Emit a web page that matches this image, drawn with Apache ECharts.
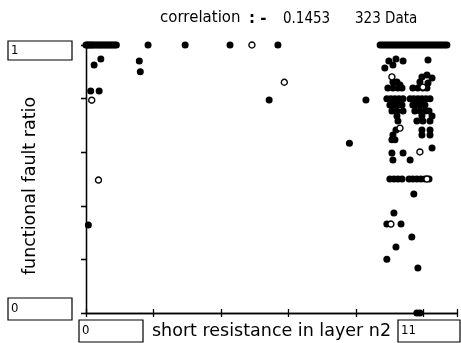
<!DOCTYPE html>
<html><head><meta charset="utf-8">
<script src="https://cdn.jsdelivr.net/npm/echarts@6/dist/echarts.min.js"></script>
<style>html,body{margin:0;padding:0;background:#fff}#c{width:461px;height:343px}</style>
</head><body><div id="c"></div>
<script>
// ---- data (x: short resistance in layer n2, y: functional fault ratio) ----
const xTickValues = [0, 2, 4, 6, 8, 10];
const yTickValues = [0, 0.2, 0.4, 0.6, 0.8, 1];
const titleParts = ["correlation", ": -", "0.1453", "323 Data"];
const xRangeLabels = ["0", "11"];
const yRangeLabels = ["0", "1"];

// points lying on ratio = 1
const topRowX = [0, 0.04, 0.08, 0.12, 0.16, 0.2, 0.25, 0.3, 0.35, 0.4, 0.45, 0.5, 0.55, 0.6, 0.65, 0.7, 0.75, 0.8, 0.85, 0.9,
  1.84, 2.94, 4.27, 5.69,
  8.72, 8.78, 8.84, 8.9, 8.96, 9.02, 9.08, 9.14, 9.2, 9.26, 9.32, 9.38, 9.44, 9.5, 9.56, 9.62, 9.68, 9.74, 9.8, 9.86,
  9.92, 9.98, 10.04, 10.1, 10.16, 10.22, 10.28, 10.34, 10.4, 10.46, 10.52, 10.58, 10.64, 10.7];
// other filled points
const filledX = [0.24, 0.44, 0.14, 0.39, 1.58, 1.61, 5.43, 0.07, 7.81, 8.30,
  8.98, 9.19, 9.40, 10.14, 9.10, 8.86, 9.96, 10.11, 10.26, 9.90, 10.14, 9.10, 9.31, 9.22,
  8.95, 9.10, 9.25, 9.37, 9.69, 9.84, 9.99, 10.11,
  8.92, 9.04, 9.16, 9.28, 9.40, 9.61, 9.72, 9.84, 9.96, 10.08, 10.20,
  9.01, 9.13, 9.25, 9.37, 9.69, 9.81, 9.93, 10.05,
  9.07, 9.22, 9.40, 9.75, 9.90, 10.05, 10.17,
  9.22, 9.96, 10.26,
  9.25, 9.81, 9.99, 10.20,
  9.19, 9.96, 10.20,
  9.10, 9.96, 10.20,
  9.07, 9.16,
  10.26,
  9.07, 9.40,
  9.10, 9.61,
  9.01, 9.13, 9.25, 9.37, 9.58, 9.69, 9.81, 9.93, 10.05, 10.17,
  9.72, 9.13, 8.92, 9.34, 9.66, 9.19, 8.92, 9.84, 9.81, 9.90];
const filledY = [0.925, 0.948, 0.828, 0.828, 0.940, 0.900, 0.795, 0.328, 0.633, 0.795,
  0.940, 0.948, 0.940, 0.944, 0.925, 0.914, 0.881, 0.888, 0.877, 0.862, 0.858, 0.862, 0.851, 0.862,
  0.840, 0.840, 0.840, 0.840, 0.840, 0.840, 0.840, 0.840,
  0.799, 0.799, 0.799, 0.799, 0.799, 0.799, 0.799, 0.799, 0.799, 0.799, 0.799,
  0.776, 0.776, 0.776, 0.776, 0.776, 0.776, 0.776, 0.776,
  0.754, 0.754, 0.754, 0.754, 0.754, 0.754, 0.754,
  0.735, 0.735, 0.735,
  0.716, 0.716, 0.716, 0.716,
  0.683, 0.683, 0.683,
  0.664, 0.664, 0.664,
  0.646, 0.646,
  0.616,
  0.597, 0.597,
  0.571, 0.571,
  0.500, 0.500, 0.500, 0.500, 0.500, 0.500, 0.500, 0.500, 0.500, 0.500,
  0.444, 0.373, 0.332, 0.332, 0.284, 0.246, 0.201, 0.168, 0, 0];
// hollow points
const hollowX = [4.92, 0.17, 5.88, 0.37, 9.07, 9.99, 9.31, 9.90, 10.11, 9.04];
const hollowY = [1, 0.794, 0.861, 0.496, 0.881, 0.843, 0.690, 0.601, 0.500, 0.332];

const pair = (xs, ys) => xs.map((x, i) => [x, ys[i]]);
const topData = topRowX.map(x => [x, 1]);
const filledData = topData.concat(pair(filledX, filledY));
const hollowData = pair(hollowX, hollowY);

const chart = echarts.init(document.getElementById('c'), null, {renderer: 'canvas'});
const lineStyle = {color: '#000', width: 1.3};
const narrow = "'Liberation Sans Narrow','DejaVu Sans Condensed',sans-serif";
const plain = "'DejaVu Sans',sans-serif";

function box(x, y, w, h, label) {
  return {type: 'group', children: [
    {type: 'rect', shape: {x: x, y: y, width: w, height: h}, style: {fill: '#fff', stroke: '#000', lineWidth: 1.2}},
    {type: 'text', x: x + 3, y: y + h / 2, style: {text: label, fill: '#000', font: '13px ' + narrow, textVerticalAlign: 'middle'}}
  ]};
}

chart.setOption({
  animation: false,
  backgroundColor: '#fff',
  grid: {left: 86, top: 45, right: 4, bottom: 30},
  xAxis: [
    {type: 'value', position: 'bottom', min: 0, max: 11, interval: 2,
     axisLine: {lineStyle}, axisTick: {show: true, length: 4, lineStyle}, axisLabel: {show: false}, splitLine: {show: false}},
    {type: 'value', position: 'top', min: 0, max: 11, interval: 2,
     axisLine: {lineStyle}, axisTick: {show: true, length: 4, lineStyle}, axisLabel: {show: false}, splitLine: {show: false}}
  ],
  yAxis: [
    {type: 'value', position: 'left', min: 0, max: 1, interval: 0.2,
     axisLine: {lineStyle}, axisTick: {show: true, length: 5, lineStyle}, axisLabel: {show: false}, splitLine: {show: false}},
    {type: 'value', position: 'right', min: 0, max: 1, interval: 0.2,
     axisLine: {lineStyle}, axisTick: {show: true, inside: true, length: 5, lineStyle}, axisLabel: {show: false}, splitLine: {show: false}}
  ],
  series: [
    {type: 'scatter', xAxisIndex: 0, yAxisIndex: 0, data: filledData, symbol: 'circle', symbolSize: 7,
     itemStyle: {color: '#000', opacity: 1}, clip: false, z: 3},
    {type: 'scatter', xAxisIndex: 0, yAxisIndex: 0, data: hollowData, symbol: 'circle', symbolSize: 6,
     itemStyle: {color: '#fff', borderColor: '#000', borderWidth: 1.4, opacity: 1}, clip: false, z: 4}
  ],
  graphic: [
    {type: 'text', x: 160, y: 18, style: {text: titleParts[0], fill: '#000', font: '15px ' + plain, textVerticalAlign: 'middle'}},
    {type: 'text', x: 249, y: 19, style: {text: titleParts[1], fill: '#000', font: 'bold 15px ' + plain, textVerticalAlign: 'middle'}},
    {type: 'text', x: 283, y: 19, style: {text: titleParts[2], fill: '#000', font: '15px ' + narrow, textVerticalAlign: 'middle'}},
    {type: 'text', x: 355, y: 19, style: {text: titleParts[3], fill: '#000', font: '15px ' + narrow, textVerticalAlign: 'middle'}},
    {type: 'text', x: 152, y: 331, style: {text: 'short resistance in layer n2', fill: '#000', font: '17.5px ' + plain, textVerticalAlign: 'middle'}},
    {type: 'text', x: 30, y: 186, rotation: Math.PI / 2,
     style: {text: 'functional fault ratio', fill: '#000', font: '17.5px ' + plain, textAlign: 'center', textVerticalAlign: 'middle'}},
    box(8, 41, 64, 19, yRangeLabels[1]),
    box(8, 298, 64, 22, yRangeLabels[0]),
    box(79, 320, 64, 22, xRangeLabels[0]),
    box(398, 320, 62, 22, xRangeLabels[1])
  ]
});
</script></body></html>
